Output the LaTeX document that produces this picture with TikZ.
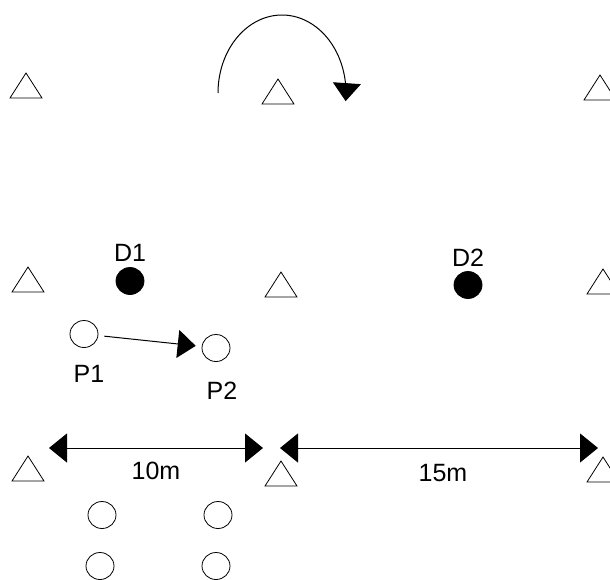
\documentclass[tikz,border=0pt]{standalone}
\usepackage{fontspec}
\setmainfont{Liberation Sans}
\usetikzlibrary{arrows.meta,shapes.geometric}
\tikzset{
  player/.style={draw, ellipse, line width=0.8pt, minimum width=28pt, minimum height=27pt, inner sep=0pt},
  defender/.style={player, fill=black},
  lbl/.style={font=\fontsize{25}{28}\selectfont, inner sep=0pt},
  conearrow/.style={line width=1pt, -{Triangle[length=18pt,width=28pt]}},
  dimarrow/.style={line width=1pt, {Triangle[length=18pt,width=29pt]}-{Triangle[length=18pt,width=29pt]}},
  cone/.style={draw, line width=0.8pt}
}
\newcommand{\conemark}[2]{\draw[cone] (#1-16,#2) -- (#1,#2-25) -- (#1+16,#2) -- cycle;}
\begin{document}
\begin{tikzpicture}[x=1pt,y=-1pt]
\useasboundingbox (0,0) rectangle (610,579);
\clip (0,0) rectangle (610,579);
\fill[white] (0,0) rectangle (610,579);
% cones
\conemark{26}{98}
\conemark{278}{104}
\conemark{600}{100}
\conemark{28}{292}
\conemark{281}{297}
\conemark{603}{294}
\conemark{28}{481}
\conemark{281}{486}
\conemark{603}{482}
% rotation arrow
\draw[conearrow, domain=180:-6, samples=80, variable=\t]
  plot ({282+64*cos(\t)}, {93-78*sin(\t)});
% defenders
\node[defender] (D1) at (130,281) {};
\node[defender] (D2) at (468,285) {};
\node[lbl] (D1l) at (130,253) {D1};
\node[lbl] (D2l) at (468,258) {D2};
% players
\node[player] (P1) at (84,334) {};
\node[player] (P2) at (216,348) {};
\node[lbl] (P1l) at (89,374) {P1};
\node[lbl] (P2l) at (222,391) {P2};
\draw[conearrow, shorten <=6pt, shorten >=6pt] (P1) -- (P2);
% queue
\node[player] (Q1) at (102,515) {};
\node[player] (Q2) at (218,515) {};
\node[player] (Q3) at (100,566) {};
\node[player] (Q4) at (216,566) {};
% dimensions
\coordinate (a1) at (49,448);
\coordinate (a2) at (263,448);
\coordinate (a3) at (280,448);
\coordinate (a4) at (598,448);
\draw[dimarrow] (a1) -- (a2);
\draw[dimarrow] (a3) -- (a4);
\node[lbl] (d10) at (156,471) {10m};
\node[lbl] (d15) at (443,473) {15m};
\end{tikzpicture}
\end{document}
